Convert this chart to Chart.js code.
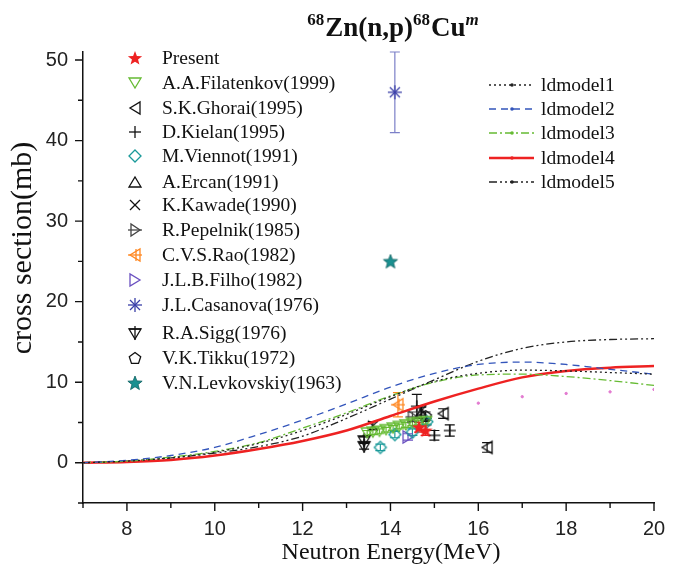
<!DOCTYPE html>
<html>
<head>
<meta charset="utf-8">
<script src="https://cdn.jsdelivr.net/npm/chart.js@4"></script>
<style>
  body { margin: 0; background: #fff; }
</style>
</head>
<body>
<canvas id="xsChart" width="681" height="565"></canvas>
<script>
// model curves (cross section in mb vs neutron energy in MeV)
const energy = [7, 8, 9, 10, 11, 12, 13, 14, 15, 16, 17, 18, 19, 20];
const ldmodel1 = [0, 0.2, 0.6, 1.3, 2.4, 4.0, 6.0, 8.2, 10.1, 11.1, 11.5, 11.4, 11.2, 11.0];
const ldmodel2 = [0, 0.3, 0.9, 1.9, 3.5, 5.3, 7.3, 9.4, 11.1, 12.2, 12.5, 12.2, 11.6, 11.0];
const ldmodel3 = [0, 0.2, 0.7, 1.4, 2.5, 4.3, 6.2, 8.3, 10.0, 10.9, 11.0, 10.7, 10.2, 9.6];
const ldmodel4 = [0, 0.1, 0.35, 0.9, 1.7, 2.7, 4.0, 5.8, 7.6, 9.2, 10.6, 11.4, 11.8, 12.0];
const ldmodel5 = [0, 0.2, 0.6, 1.2, 2.0, 3.3, 5.5, 7.9, 10.3, 12.6, 14.2, 15.0, 15.3, 15.4];

// small magenta dots (no legend entry)
const dotsE = [16, 17, 18, 19, 20];
const dotsXS = [7.4, 8.2, 8.6, 8.8, 9.1];

// measurements: energy, cross section, error
const presentE = [14.65, 14.8];
const presentXS = [4.4, 4.0];
const presentErr = [0.6, 0.6];
const filatenkovE = [13.47, 13.6, 13.75, 13.9, 14.06, 14.2, 14.35, 14.5, 14.64, 14.8];
const filatenkovXS = [3.7, 3.8, 3.9, 4.1, 4.3, 4.5, 4.7, 4.9, 5.0, 5.1];
const filatenkovErr = [0.3, 0.3, 0.3, 0.3, 0.3, 0.3, 0.3, 0.3, 0.3, 0.3];
const ghoraiE = [15.2, 16.2];
const ghoraiXS = [6.1, 1.9];
const ghoraiErr = [0.6, 0.6];
const kielanE = [14.6, 15.0, 15.35];
const kielanXS = [7.0, 3.4, 4.0];
const kielanErr = [1.5, 0.6, 0.7];
const viennotE = [13.77, 14.1, 14.5, 14.83];
const viennotXS = [1.9, 3.5, 3.8, 5.1];
const viennotErr = [0.4, 0.4, 0.4, 0.4];
const ercanE = [14.7];
const ercanXS = [6.2];
const ercanErr = [0.7];
const kawadeE = [13.6, 14.7];
const kawadeXS = [4.6, 6.5];
const kawadeErr = [0.5, 0.6];
const pepelnikE = [14.5];
const pepelnikXS = [5.7];
const pepelnikErr = [0.6];
const raoE = [14.17];
const raoXS = [7.2];
const raoErr = [1.5];
const filhoE = [14.4];
const filhoXS = [3.2];
const filhoErr = [0.4];
const casanovaE = [14.1];
const casanovaXS = [46];
const casanovaErr = [5];
const siggE = [13.4, 13.4];
const siggXS = [2.1, 2.8];
const siggErr = [0.4, 0.4];
const tikkuE = [14.8];
const tikkuXS = [5.8];
const tikkuErr = [0.5];
const levkovskiyE = [14.0];
const levkovskiyXS = [25];
const levkovskiyErr = [0];

const xTicks = [8, 10, 12, 14, 16, 18, 20];
const yTicks = [0, 10, 20, 30, 40, 50];

function marker(shape, color) {
    const c = document.createElement('canvas');
    c.width = 18; c.height = 18;
    const g = c.getContext('2d');
    g.strokeStyle = color; g.fillStyle = color; g.lineWidth = 1.3;
    const poly = (pts, fill) => {
        g.beginPath();
        pts.forEach((p, i) => i ? g.lineTo(p[0], p[1]) : g.moveTo(p[0], p[1]));
        g.closePath();
        fill ? g.fill() : g.stroke();
    };
    const line = (a, b, c2, d) => { g.beginPath(); g.moveTo(a, b); g.lineTo(c2, d); g.stroke(); };
    const star = (r1, r2) => {
        const pts = [];
        for (let i = 0; i < 10; i++) {
            const r = i % 2 ? r2 : r1, a = -Math.PI / 2 + i * Math.PI / 5;
            pts.push([9 + r * Math.cos(a), 9.5 + r * Math.sin(a)]);
        }
        return pts;
    };
    if (shape === 'star') poly(star(7.5, 3.2), true);
    if (shape === 'down') poly([[3, 4], [15, 4], [9, 14]]);
    if (shape === 'up') poly([[3, 14], [15, 14], [9, 4]]);
    if (shape === 'left') poly([[14, 3], [14, 15], [4, 9]]);
    if (shape === 'right') poly([[4, 3], [4, 15], [14, 9]]);
    if (shape === 'plus') { line(3, 9, 15, 9); line(9, 3, 9, 15); }
    if (shape === 'x') { line(4, 4, 14, 14); line(14, 4, 4, 14); }
    if (shape === 'diamond') poly([[9, 3], [15, 9], [9, 15], [3, 9]]);
    if (shape === 'pentagon') {
        const pts = [];
        for (let i = 0; i < 5; i++) {
            const a = -Math.PI / 2 + i * 2 * Math.PI / 5;
            pts.push([9 + 6 * Math.cos(a), 9.5 + 6 * Math.sin(a)]);
        }
        poly(pts);
    }
    if (shape === 'rightbar') { poly([[5, 3], [5, 15], [14, 9]]); line(2, 9, 16, 9); }
    if (shape === 'leftcross') { poly([[14, 3], [14, 15], [4, 9]]); line(2, 9, 16, 9); line(10, 3, 10, 15); }
    if (shape === 'downcross') { poly([[3, 5], [15, 5], [9, 15]]); line(9, 2, 9, 16); line(3, 5, 15, 5); }
    if (shape === 'asterisk') { line(2, 9, 16, 9); line(9, 2, 9, 16); line(4, 4, 14, 14); line(14, 4, 4, 14); }
    if (shape === 'tealstar') {
        poly(star(7.5, 3.2), true);
        g.strokeStyle = '#0b5f5f'; g.lineWidth = 0.8; poly(star(7.5, 3.2));
    }
    return c;
}

function pts(xs, ys) {
    return xs.map((x, i) => ({ x: x, y: ys[i] }));
}

function modelSet(label, values, color, dash, width) {
    return {
        label: label,
        data: pts(energy, values),
        showLine: true,
        borderColor: color,
        backgroundColor: color,
        borderDash: dash,
        borderWidth: width,
        pointRadius: 0,
        cubicInterpolationMode: 'monotone'
    };
}

function expSet(label, xs, ys, errs, shape, color, errColor) {
    return {
        label: label,
        data: pts(xs, ys),
        errors: errs,
        errColor: errColor || color,
        pointStyle: marker(shape, color),
        borderColor: color,
        backgroundColor: color,
        showLine: false
    };
}

const expSets = [
    expSet('Present', presentE, presentXS, presentErr, 'star', '#ee2222'),
    expSet('A.A.Filatenkov(1999)', filatenkovE, filatenkovXS, filatenkovErr, 'down', '#66bb33'),
    expSet('S.K.Ghorai(1995)', ghoraiE, ghoraiXS, ghoraiErr, 'left', '#111'),
    expSet('D.Kielan(1995)', kielanE, kielanXS, kielanErr, 'plus', '#111'),
    expSet('M.Viennot(1991)', viennotE, viennotXS, viennotErr, 'diamond', '#1a9a9a'),
    expSet('A.Ercan(1991)', ercanE, ercanXS, ercanErr, 'up', '#111'),
    expSet('K.Kawade(1990)', kawadeE, kawadeXS, kawadeErr, 'x', '#111'),
    expSet('R.Pepelnik(1985)', pepelnikE, pepelnikXS, pepelnikErr, 'rightbar', '#444'),
    expSet('C.V.S.Rao(1982)', raoE, raoXS, raoErr, 'leftcross', '#ff8822'),
    expSet('J.L.B.Filho(1982)', filhoE, filhoXS, filhoErr, 'right', '#6a50c0'),
    expSet('J.L.Casanova(1976)', casanovaE, casanovaXS, casanovaErr, 'asterisk', '#3a3fa8', '#7c80c8'),
    expSet('R.A.Sigg(1976)', siggE, siggXS, siggErr, 'downcross', '#111'),
    expSet('V.K.Tikku(1972)', tikkuE, tikkuXS, tikkuErr, 'pentagon', '#111'),
    expSet('V.N.Levkovskiy(1963)', levkovskiyE, levkovskiyXS, levkovskiyErr, 'tealstar', '#1a9090')
];

const modelSets = [
    modelSet('ldmodel1', ldmodel1, '#222', [2, 3], 1.3),
    modelSet('ldmodel2', ldmodel2, '#3355bb', [7, 5], 1.3),
    modelSet('ldmodel3', ldmodel3, '#66bb33', [8, 3, 2, 3], 1.3),
    modelSet('ldmodel4', ldmodel4, '#ee2222', [], 2.5),
    modelSet('ldmodel5', ldmodel5, '#222', [8, 3, 2, 3, 2, 3], 1.3)
];

const dotSet = {
    label: 'dots',
    data: pts(dotsE, dotsXS),
    pointRadius: 1.2,
    backgroundColor: '#e27ad0',
    borderColor: '#e27ad0',
    showLine: false
};

// error bars drawn under the markers
const errorBars = {
    id: 'errorBars',
    beforeDatasetsDraw(chart) {
        const { ctx, scales: { x, y } } = chart;
        chart.data.datasets.forEach(ds => {
            if (!ds.errors) return;
            ctx.save();
            ctx.strokeStyle = ds.errColor;
            ctx.lineWidth = 1.2;
            ds.data.forEach((p, j) => {
                const e = ds.errors[j];
                if (!e) return;
                const px = x.getPixelForValue(p.x);
                const top = y.getPixelForValue(p.y + e);
                const bot = y.getPixelForValue(p.y - e);
                ctx.beginPath();
                ctx.moveTo(px, top); ctx.lineTo(px, bot);
                ctx.moveTo(px - 5, top); ctx.lineTo(px + 5, top);
                ctx.moveTo(px - 5, bot); ctx.lineTo(px + 5, bot);
                ctx.stroke();
            });
            ctx.restore();
        });
    }
};

// outward tick marks: long on labelled values, short on the others
const tickMarks = {
    id: 'tickMarks',
    afterDraw(chart) {
        const { ctx, chartArea: a, scales: { x, y } } = chart;
        ctx.save();
        ctx.strokeStyle = '#111';
        ctx.lineWidth = 1.4;
        ctx.beginPath();
        x.ticks.forEach(t => {
            const px = x.getPixelForValue(t.value);
            const len = xTicks.includes(t.value) ? 8 : 5;
            ctx.moveTo(px, a.bottom); ctx.lineTo(px, a.bottom + len);
        });
        y.ticks.forEach(t => {
            const py = y.getPixelForValue(t.value);
            const len = yTicks.includes(t.value) ? 8 : 5;
            ctx.moveTo(a.left, py); ctx.lineTo(a.left - len, py);
        });
        ctx.stroke();
        ctx.restore();
    }
};

// legends, axis titles and the title with superscripts
const decorations = {
    id: 'decorations',
    afterDraw(chart) {
        const ctx = chart.ctx;
        ctx.save();
        ctx.fillStyle = '#111';
        ctx.textBaseline = 'middle';
        ctx.font = '19.5px "Liberation Serif"';
        const rowsY = [58, 83, 108, 132, 156, 182, 205, 230, 255, 280, 305, 333, 358, 383];
        expSets.forEach((ds, i) => {
            ctx.drawImage(ds.pointStyle, 135 - 9, rowsY[i] - 9);
            ctx.fillText(ds.label, 162, rowsY[i] + 1);
        });
        const modelRows = [85, 109, 133, 158, 182];
        modelSets.forEach((ds, i) => {
            const yy = modelRows[i];
            ctx.beginPath();
            ctx.strokeStyle = ds.borderColor;
            ctx.lineWidth = ds.borderWidth;
            ctx.setLineDash(ds.borderDash);
            ctx.moveTo(489, yy); ctx.lineTo(534, yy);
            ctx.stroke();
            ctx.setLineDash([]);
            ctx.fillStyle = ds.borderColor;
            ctx.beginPath(); ctx.arc(512, yy, 1.8, 0, Math.PI * 2); ctx.fill();
            ctx.fillStyle = '#111';
            ctx.fillText(ds.label, 541, yy + 1);
        });

        // axis titles
        ctx.textAlign = 'center';
        ctx.font = '24px "Liberation Serif"';
        ctx.fillText('Neutron Energy(MeV)', 391, 553);
        ctx.save();
        ctx.translate(23, 248);
        ctx.rotate(-Math.PI / 2);
        ctx.font = '30px "Liberation Serif"';
        ctx.fillText('cross section(mb)', 0, 0);
        ctx.restore();
        ctx.textAlign = 'left';

        // title: 68Zn(n,p)68Cu^m
        const parts = [
            ['68', 'bold 17px "Liberation Serif"', -11],
            ['Zn(n,p)', 'bold 27px "Liberation Serif"', 0],
            ['68', 'bold 17px "Liberation Serif"', -11],
            ['Cu', 'bold 27px "Liberation Serif"', 0],
            ['m', 'bold italic 17px "Liberation Serif"', -11]
        ];
        let total = 0;
        parts.forEach(p => { ctx.font = p[1]; total += ctx.measureText(p[0]).width; });
        let tx = 392 - total / 2;
        ctx.textBaseline = 'alphabetic';
        parts.forEach(p => {
            ctx.font = p[1];
            ctx.fillText(p[0], tx, 36 + p[2]);
            tx += ctx.measureText(p[0]).width + (p[2] ? 1 : 0);
        });
        ctx.restore();
    }
};

new Chart(document.getElementById('xsChart').getContext('2d'), {
    type: 'scatter',
    data: { datasets: [...modelSets, dotSet, ...expSets] },
    options: {
        responsive: false,
        animation: false,
        devicePixelRatio: 1,
        layout: { padding: { top: 52, right: 27, left: 0, bottom: 0 } },
        elements: { point: { radius: 7, hoverRadius: 7 } },
        plugins: {
            legend: { display: false },
            tooltip: { enabled: false }
        },
        scales: {
            x: {
                type: 'linear',
                min: 7,
                max: 20,
                afterFit: scale => { scale.height = 62; },
                afterBuildTicks: scale => {
                    scale.ticks = energy.map(v => ({ value: v }));
                },
                ticks: {
                    autoSkip: false,
                    maxRotation: 0,
                    padding: 14,
                    color: '#222',
                    font: { family: '"Liberation Sans"', size: 20 },
                    callback: v => xTicks.includes(v) ? v : ''
                },
                border: { color: '#111', width: 1.5 },
                grid: { drawOnChartArea: false, drawTicks: false }
            },
            y: {
                type: 'linear',
                min: -5,
                max: 51,
                afterFit: scale => { scale.width = 83; },
                afterBuildTicks: scale => {
                    const t = [];
                    for (let v = -5; v <= 50; v += 5) t.push({ value: v });
                    scale.ticks = t;
                },
                ticks: {
                    autoSkip: false,
                    padding: 15,
                    color: '#222',
                    font: { family: '"Liberation Sans"', size: 20 },
                    callback: v => yTicks.includes(v) ? v : ''
                },
                border: { color: '#111', width: 1.5 },
                grid: { drawOnChartArea: false, drawTicks: false }
            }
        }
    },
    plugins: [errorBars, tickMarks, decorations]
});
</script>
</body>
</html>
